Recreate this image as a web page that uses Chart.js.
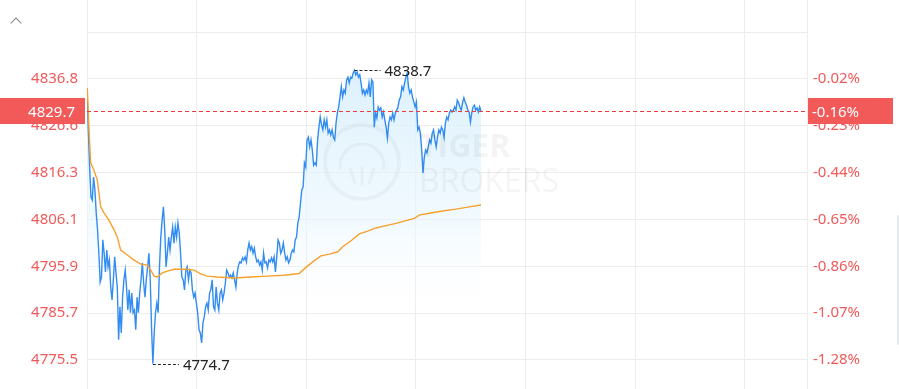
<!DOCTYPE html>
<html>
<head>
<meta charset="utf-8">
<script src="https://cdn.jsdelivr.net/npm/chart.js@4/dist/chart.umd.min.js"></script>
<style>
  html, body { margin: 0; padding: 0; background: #fff; overflow: hidden; }
  #wrap { position: relative; width: 899px; height: 389px; }
  #c { position: absolute; left: 0; top: 0; }
  #caret { position: absolute; left: 12px; top: 19px; width: 7px; height: 7px;
           border-left: 1.6px solid #8a8a8a; border-top: 1.6px solid #8a8a8a; transform: rotate(45deg); }
  #scroll { position: absolute; left: 897px; top: 215px; width: 2px; height: 130px; background: #e6e9ee; }
</style>
</head>
<body>
<div id="wrap">
  <canvas id="c" width="899" height="389"></canvas>
  <div id="caret"></div>
  <div id="scroll"></div>
</div>
<script>
// ---------------- DATA ----------------
// Intraday price (one value per sample, from the open to the latest sample)
const prices = [
  4834.8,4825.7,4817.6,4811.1,4810.4,4815.4,4812.6,4807.6,4803.9,4798.8,
  4792.5,4793.6,4801.7,4798.8,4794.7,4799.5,4795.8,4797.3,4791.4,4788.6,
  4793.0,4798.0,4794.5,4791.4,4779.9,4787.1,4781.4,4789.2,4793.0,4795.1,
  4791.4,4786.4,4790.8,4785.8,4790.1,4785.8,4786.4,4782.1,4789.2,4785.8,
  4790.1,4793.0,4796.7,4792.3,4789.2,4793.0,4795.8,4798.8,4793.0,4782.5,
  4774.7,4781.4,4785.8,4787.9,4785.8,4795.8,4802.3,4806.0,4808.9,4803.9,
  4795.8,4798.8,4802.3,4799.5,4802.3,4804.5,4801.0,4804.5,4802.3,4805.4,
  4803.2,4798.8,4793.6,4793.0,
  4790.8,4795.1,4795.8,4793.0,4795.1,4794.5,4790.8,4789.2,4790.1,4787.9,
  4785.8,4782.1,4781.4,4779.2,4783.6,4784.9,4787.1,4787.9,4786.4,4790.1,
  4790.8,4793.0,4787.1,4786.4,4791.4,4787.9,4786.4,4790.1,4790.8,4788.6,
  4790.1,4792.3,4795.1,4794.5,4793.6,4794.0,4793.4,4794.5,4793.0,4791.4,
  4794.5,4796.2,4796.9,4796.7,4797.8,4797.3,4798.0,4796.9,4799.5,4801.0,
  4799.5,4800.2,4798.8,4799.9,4798.0,4796.9,4797.3,4796.2,4796.9,4795.1,
  4798.8,4796.7,4796.9,4795.6,4797.3,4796.9,4797.8,4796.9,4798.0,4794.7,
  4798.0,4801.7,4801.0,4798.8,4799.5,4801.0,4798.8,4797.3,4798.0,4796.7,
  4797.3,4798.8,4799.5,4799.1,4801.7,4802.3,4805.4,4806.7,4809.7,4812.6,
  4813.2,4818.5,4817.6,4823.5,4824.1,4822.0,4823.5,4821.3,4818.0,4818.5,
  4818.0,4823.5,4826.3,4828.5,4826.8,4825.7,4827.9,4826.3,4827.9,4825.0,
  4825.7,4824.6,4825.7,4824.1,4823.5,4827.2,4829.4,4830.7,4832.9,4835.1,
  4832.9,4834.4,4833.7,4836.6,4837.2,4835.9,4837.2,4837.0,4838.1,4838.7,
  4837.7,4838.3,4837.2,4837.7,4835.9,4833.7,4834.4,4833.3,4834.4,4833.7,
  4835.9,4832.9,4836.6,4836.1,4826.3,4829.4,4828.3,4830.7,4830.0,4830.5,
  4828.5,4829.6,4827.9,4826.3,4823.9,4827.2,4828.5,4827.9,4829.4,4827.9,
  4829.4,4830.0,4830.7,4832.2,4832.9,4835.1,4834.4,4835.9,4837.2,4838.1,
  4835.1,4833.7,4834.4,4832.9,4831.8,4830.7,4831.8,4825.7,4826.3,4825.0,
  4821.3,4816.3,4819.8,4821.3,4820.7,4822.0,4823.5,4822.8,4825.0,4825.7,
  4823.5,4822.0,4824.1,4825.7,4825.0,4826.3,4825.7,4824.1,4827.2,4828.5,
  4827.9,4829.4,4830.0,4829.6,4830.0,4830.7,4830.0,4832.2,4831.6,4830.7,
  4830.0,4831.6,4832.7,4831.8,4831.1,4830.0,4829.6,4827.4,4829.4,4830.7,
  4831.1,4830.0,4830.5,4829.6,4830.7,4829.7
];
// Minutes since the open covered by the price samples, and the session length on the axis
const priceSpanMinutes = 215.6;
const sessionMinutes = 394;

// Average-price line (minutes since open, value)
const avgMinutes = [0,0.2,1.1,2.0,3.8,5.6,7.5,9.3,12.0,14.8,16.6,18.4,22.1,25.7,29.4,33.0,34.9,36.7,38.5,41.2,
  43.9,47.6,51.3,54.6,58.6,62.2,65.8,71.3,80.4,89.6,98.7,107.8,115.1,116.2,119.8,123.5,128.0,132.6,137.2,139.9,
  144.5,149.0,153.6,158.1,163.6,169.1,174.6,179.1,181.8,187.3,194.6,201.9,209.2,215.6];
const avgValues = [4834.8,4834.4,4825.7,4818.5,4816.9,4814.8,4808.9,4807.6,4806.0,4803.9,4802.3,4799.5,4798.4,4797.3,4796.4,4796.2,4795.1,4793.8,4793.6,4794.5,
  4794.9,4795.3,4795.3,4795.3,4795.1,4794.3,4793.8,4793.6,4793.4,4793.6,4793.8,4794.0,4794.3,4794.4,4795.7,4796.9,4798.2,4798.6,4799.1,4800.2,
  4801.5,4803.0,4803.6,4804.3,4804.8,4805.3,4805.9,4806.4,4807.1,4807.5,4808.0,4808.4,4808.9,4809.3];

// Axis
const yMin = 4769.17, yMax = 4854.03;
const priceTicks = [4775.5, 4785.7, 4795.9, 4806.1, 4816.3, 4826.6, 4836.8, 4847.0];
const priceTickLabels = ['4775.5','4785.7','4795.9','4806.1','4816.3','4826.6','4836.8',''];
const pctTickLabels = ['-1.28%','-1.07%','-0.86%','-0.65%','-0.44%','-0.23%','-0.02%',''];
const timeGridMinutes = [0,60,120,180,240,300,360,394];
const lastPrice = prices[prices.length - 1];
const lastPctLabel = '-0.16%';

// ---------------- CHART ----------------
const RED = '#f25a5a';
const FONT = "'Noto Sans', 'DejaVu Sans', sans-serif";

const priceData = prices.map((p, i) => ({ x: i * priceSpanMinutes / (prices.length - 1), y: p }));
const avgData = avgMinutes.map((m, i) => ({ x: m, y: avgValues[i] }));

const noPad = (s) => { s.paddingTop = 0; s.paddingBottom = 0; s.paddingLeft = 0; s.paddingRight = 0; };

const watermark = {
  id: 'watermark',
  afterDatasetsDraw(chart) {
    const ctx = chart.ctx;
    ctx.save();
    ctx.strokeStyle = 'rgba(0,0,0,0.035)';
    ctx.lineWidth = 4;
    ctx.beginPath(); ctx.arc(362, 162, 37, 0, Math.PI * 2); ctx.stroke();
    ctx.lineWidth = 3;
    ctx.beginPath(); ctx.arc(362, 166, 22, Math.PI * 0.95, Math.PI * 2.05); ctx.stroke();
    ctx.beginPath(); ctx.moveTo(350, 168); ctx.lineTo(355, 184); ctx.moveTo(362, 166); ctx.lineTo(362, 186); ctx.moveTo(374, 168); ctx.lineTo(369, 184); ctx.stroke();
    ctx.fillStyle = 'rgba(0,0,0,0.045)';
    ctx.font = "bold 32px 'Open Sans', sans-serif";
    ctx.textBaseline = 'alphabetic';
    ctx.fillText('TIGER', 419, 157);
    ctx.font = "32px 'Open Sans', sans-serif";
    ctx.fillText('BROKERS', 419, 192);
    ctx.restore();
  }
};

const overlays = {
  id: 'overlays',
  afterDatasetsDraw(chart) {
    const ctx = chart.ctx;
    const ca = chart.chartArea;
    const ys = chart.scales.y;
    const meta = chart.getDatasetMeta(0);
    ctx.save();
    // extremes
    let maxI = 0, minI = 0;
    prices.forEach((p, i) => { if (p > prices[maxI]) maxI = i; if (p < prices[minI]) minI = i; });
    [maxI, minI].forEach(i => {
      const pt = meta.data[i];
      const y = Math.round(pt.y) + 0.5;
      ctx.strokeStyle = '#222'; ctx.lineWidth = 1; ctx.setLineDash([3, 2]);
      ctx.beginPath(); ctx.moveTo(pt.x, y); ctx.lineTo(pt.x + 26, y); ctx.stroke();
      ctx.setLineDash([]);
      ctx.fillStyle = '#222'; ctx.font = '15px ' + FONT; ctx.textBaseline = 'middle'; ctx.textAlign = 'left';
      ctx.fillText(prices[i].toFixed(1), pt.x + 30, y + 1);
    });
    // last price line
    const y = Math.round(ys.getPixelForValue(lastPrice)) - 0.5;
    ctx.strokeStyle = '#ee3b3b'; ctx.lineWidth = 1; ctx.setLineDash([4, 3]);
    ctx.beginPath(); ctx.moveTo(ca.left, y); ctx.lineTo(ca.right, y); ctx.stroke();
    ctx.setLineDash([]);
    ctx.fillStyle = RED;
    ctx.fillRect(0, y - 13.5, 85, 26);
    ctx.fillRect(ca.right + 1, y - 13.5, 85, 26);
    ctx.fillStyle = '#fff'; ctx.font = '15px ' + FONT; ctx.textBaseline = 'middle';
    ctx.textAlign = 'right'; ctx.fillText(lastPrice.toFixed(1), 75, y + 1);
    ctx.textAlign = 'left'; ctx.fillText(lastPctLabel, ca.right + 5, y + 1);
    ctx.restore();
  }
};

new Chart(document.getElementById('c'), {
  type: 'line',
  data: {
    datasets: [
      {
        data: priceData,
        order: 2,
        borderColor: '#338df0',
        borderWidth: 1.4,
        pointRadius: 0,
        tension: 0,
        fill: 'start',
        backgroundColor: (c) => {
          const ch = c.chart;
          if (!ch.chartArea) return 'rgba(0,0,0,0)';
          const g = ch.ctx.createLinearGradient(0, 70, 0, 320);
          g.addColorStop(0, 'rgba(214,238,252,0.85)');
          g.addColorStop(0.6, 'rgba(232,246,254,0.6)');
          g.addColorStop(1, 'rgba(255,255,255,0)');
          return g;
        }
      },
      {
        data: avgData,
        order: 1,
        borderColor: '#f6a12c',
        borderWidth: 1.4,
        pointRadius: 0,
        tension: 0,
        fill: false
      }
    ]
  },
  options: {
    responsive: false,
    animation: false,
    events: [],
    layout: { padding: 0 },
    plugins: { legend: { display: false }, tooltip: { enabled: false } },
    scales: {
      x: {
        type: 'linear',
        min: 0,
        max: sessionMinutes,
        afterBuildTicks: (s) => { s.ticks = timeGridMinutes.map(v => ({ value: v })); },
        afterFit: (s) => { s.height = 0; noPad(s); },
        ticks: { display: false },
        grid: { color: '#ececec', drawTicks: false, lineWidth: 1 },
        border: { display: false }
      },
      y: {
        position: 'left',
        min: yMin,
        max: yMax,
        afterBuildTicks: (s) => { s.ticks = priceTicks.map(v => ({ value: v })); },
        afterFit: (s) => { s.width = 87; noPad(s); },
        ticks: {
          callback: (v, i) => priceTickLabels[i],
          color: RED,
          font: { family: FONT, size: 15 },
          padding: 9,
          autoSkip: false
        },
        grid: { color: '#ececec', drawTicks: false },
        border: { display: false }
      },
      y2: {
        position: 'right',
        min: yMin,
        max: yMax,
        afterBuildTicks: (s) => { s.ticks = priceTicks.map(v => ({ value: v })); },
        afterFit: (s) => { s.width = 92; noPad(s); },
        ticks: {
          callback: (v, i) => pctTickLabels[i],
          color: RED,
          font: { family: FONT, size: 15 },
          padding: 6,
          autoSkip: false
        },
        grid: { display: false, drawTicks: false },
        border: { display: false }
      }
    }
  },
  plugins: [watermark, overlays]
});
</script>
</body>
</html>
